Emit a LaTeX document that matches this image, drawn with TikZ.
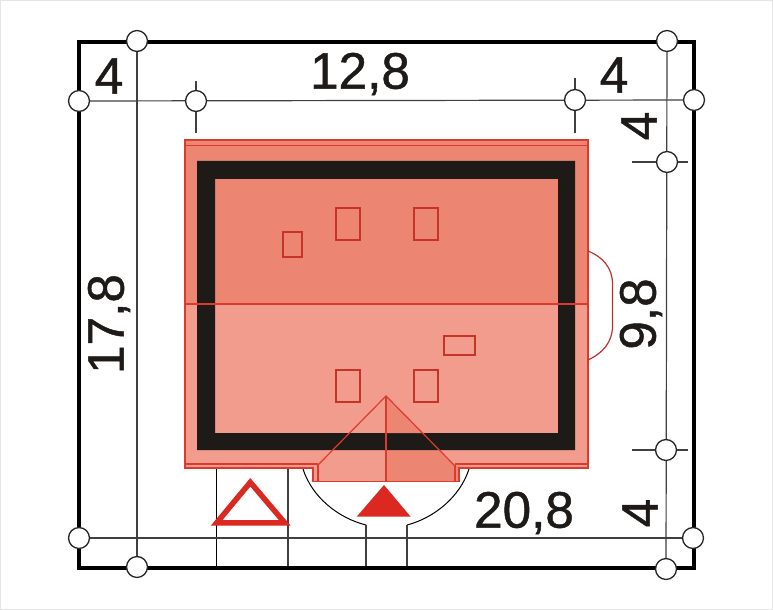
\documentclass[tikz,border=0pt]{standalone}
\usepackage{fontspec}
\setmainfont{Liberation Sans}
\newfontfamily\lblfont{Liberation Sans}[FakeBold=0.9]
\definecolor{roofup}{HTML}{EC8673}
\definecolor{rooflo}{HTML}{F19C8D}
\definecolor{rline}{HTML}{DC3A2E}
\definecolor{rfill}{HTML}{DB2820}
\definecolor{wall}{HTML}{1E1A18}
\definecolor{dimline}{HTML}{404040}
\tikzset{
  dimln/.style={draw=dimline,line width=1.2pt},
  frameln/.style={draw=black,line width=4.5pt,line cap=rect},
  marker/.style={circle,draw=black!85,line width=1.3pt,fill=white,minimum size=21pt,inner sep=0pt},
  redln/.style={draw=rline,line width=1.2pt},
  skylight/.style={draw=rline!90!black,line width=1.4pt},
  lbl/.style={font=\lblfont\fontsize{51.5}{52}\selectfont,text=wall,inner sep=0pt},
  outln/.style={draw=black,line width=1pt},
}
\begin{document}
\begin{tikzpicture}[x=1bp,y=-1bp,line join=miter]
\useasboundingbox (0,0) rectangle (773,610);
\fill[white] (0,0) rectangle (773,610);
\draw[black!10,line width=1.5pt] (0.75,0.75) rectangle (772.25,609.25);
% frame
\draw[frameln] (79,42) rectangle (694,568);
% markers coordinates
\coordinate (gl) at (79,101);
\coordinate (gr) at (694,100);
\coordinate (bl) at (79,538);
\coordinate (br) at (693,538);
\coordinate (tl) at (137,41);
\coordinate (tr) at (667,41);
\coordinate (ul) at (137,567);
\coordinate (ur) at (666,569);
% roof
\fill[rooflo] (185,304) rectangle (588,468);
\fill[roofup] (185,140) rectangle (588,304);
% porch
\fill[rooflo] (313,465) rectangle (459,481.5);
\fill[roofup] (386,396) -- (455,466) -- (459,466) -- (459,481.5) -- (386,481.5) -- cycle;
% wall
\fill[wall,even odd rule] (197,161) rectangle (575,450) (215,179) rectangle (558,433);
\fill[roofup] (386,396) -- (423,433) -- (386,433) -- cycle;
% roof lines
\draw[redln] (185,145.5) -- (588,145.5);
\draw[redln] (185,304) -- (588,304);
\draw[redln] (185,464) -- (318,464);
\draw[redln] (455,464) -- (588,464);
\draw[redln] (313,468) -- (185,468) -- (185,140) -- (588,140) -- (588,468) -- (459,468) -- (459,481.5) -- (313,481.5) -- cycle;
\draw[redln] (318,465) -- (318,481.5);
\draw[redln] (455,465) -- (455,481.5);
\draw[redln] (318,465) -- (386,396) -- (455,466);
\draw[redln] (386,396) -- (386,481.5);
% skylights
\draw[skylight] (283,232) rectangle (302,257);
\draw[skylight] (336,208) rectangle (360,240);
\draw[skylight] (414,208) rectangle (438,240);
\draw[skylight] (336,370) rectangle (360,402);
\draw[skylight] (414,370) rectangle (438,402);
\draw[skylight] (444,336) rectangle (475,355);
% outlines around the house
\draw[outln] (216.5,469) -- (216.5,566);
\draw[dimln] (288,469) -- (288,566);
\draw[outln] (303,469) .. controls (312,497) and (338,518) .. (366,525);
\draw[outln] (469,469) .. controls (460,497) and (434,518) .. (407,525);
\draw[dimln] (366,525) -- (366,566);
\draw[dimln] (407,525) -- (407,566);
\draw[rline!85!black,line width=1.2pt] (588,251) .. controls (603,257) and (612.5,268) .. (612.5,284) -- (612.5,326) .. controls (612.5,342) and (603,353) .. (588,360);
% symbols
\draw[rfill,line width=5.5pt,miter limit=10] (250.3,482.3) -- (216.6,522.9) -- (284.8,522.9) -- cycle;
\fill[rfill] (384,485) -- (356.7,516.7) -- (410.7,516.7) -- cycle;
% dimension lines
\draw[dimln] (gl) -- (gr);
\draw[dimln] (bl) -- (br);
\draw[dimln] (tl) -- (ul);
\draw[dimln] (tr) -- (ur);
\node[marker] (m1) at (gl) {};
\node[marker] (m2) at (gr) {};
\node[marker] (m3) at (bl) {};
\node[marker] (m4) at (br) {};
\node[marker] (m5) at (tl) {};
\node[marker] (m6) at (tr) {};
\node[marker] (m7) at (ul) {};
\node[marker] (m8) at (ur) {};
\coordinate (ta1) at (196,81); \coordinate (ta2) at (196,133);
\coordinate (tb1) at (575,78); \coordinate (tb2) at (575,133);
\coordinate (tc1) at (632,162); \coordinate (tc2) at (688,162);
\coordinate (td1) at (632,450); \coordinate (td2) at (688,450);
\draw[dimln] (ta1) -- (ta2);
\draw[dimln] (tb1) -- (tb2);
\draw[dimln] (tc1) -- (tc2);
\draw[dimln] (td1) -- (td2);
\node[marker] (m9) at (196,101) {};
\node[marker] (m10) at (575,100) {};
\node[marker] (m11) at (667,162) {};
\node[marker] (m12) at (666,450) {};
% labels
\node[lbl] (l1) at (109,76) {4};
\node[lbl] (l2) at (360,74) {12,8};
\node[lbl] (l3) at (614,75) {4};
\node[lbl,rotate=90] (l4) at (639,126) {4};
\node[lbl,rotate=90] (l5) at (109,324) {17,8};
\node[lbl,rotate=90] (l6) at (641,314) {9,8};
\node[lbl] (l7) at (524,513) {20,8};
\node[lbl,rotate=90] (l8) at (640,513) {4};
\end{tikzpicture}
\end{document}
